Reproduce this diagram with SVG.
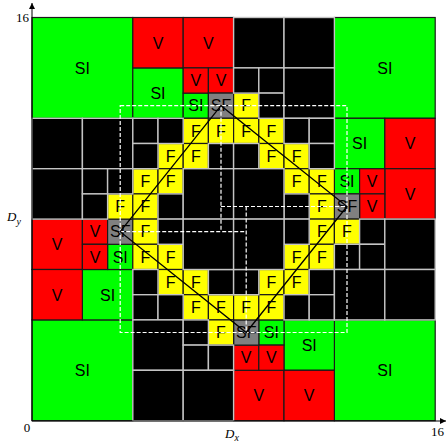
<svg xmlns="http://www.w3.org/2000/svg" width="447" height="445" viewBox="0 0 447 445">
<style>
.si{fill:#00ff00}.v{fill:#ff0000}.f{fill:#ffff00}.sf{fill:#808080}
.c{stroke:#1a1a1a;stroke-width:1.2}
.b{fill:#000;stroke:#c4c4c4;stroke-width:1.4}
.l{font-family:"Liberation Sans",Arial,sans-serif;font-size:16px;text-anchor:middle;fill:#000}
.ax{font-family:"Liberation Serif","Times New Roman",serif;font-size:13px;fill:#000}
.dash{fill:none;stroke:#fff;stroke-width:1.2;stroke-dasharray:4 2}
.diag{fill:none;stroke:#000;stroke-width:1.3}
</style>
<defs>
<marker id="arr" viewBox="0 0 10 10" refX="10" refY="5" markerWidth="6" markerHeight="6" orient="auto"><path d="M0,0 L10,5 L0,10 z" fill="#000"/></marker>
</defs>
<g id="cells-colored">
<g id="si-tl" transform="translate(32,17.5)"><rect class="si c" width="100.8" height="100.8"/><text class="l" x="50.4" y="56.2">SI</text></g>
<g id="si-tr" transform="translate(334.4,17.5)"><rect class="si c" width="100.8" height="100.8"/><text class="l" x="50.4" y="56.2">SI</text></g>
<g id="si-bl" transform="translate(32,319.9)"><rect class="si c" width="100.8" height="100.8"/><text class="l" x="50.4" y="56.2">SI</text></g>
<g id="si-br" transform="translate(334.4,319.9)"><rect class="si c" width="100.8" height="100.8"/><text class="l" x="50.4" y="56.2">SI</text></g>
<g id="si-c4r2" transform="translate(132.8,67.9)"><rect class="si c" width="50.4" height="50.4"/><text class="l" x="25.2" y="31">SI</text></g>
<g id="si-c6r3" transform="translate(183.2,93.1)"><rect class="si c" width="25.2" height="25.2"/><text class="l" x="12.6" y="18.4">SI</text></g>
<g id="si-c12r4" transform="translate(334.4,118.3)"><rect class="si c" width="50.4" height="50.4"/><text class="l" x="25.2" y="31">SI</text></g>
<g id="si-c12r6" transform="translate(334.4,168.7)"><rect class="si c" width="25.2" height="25.2"/><text class="l" x="12.6" y="18.4">SI</text></g>
<g id="si-c2r10" transform="translate(82.4,269.5)"><rect class="si c" width="50.4" height="50.4"/><text class="l" x="25.2" y="31">SI</text></g>
<g id="si-c3r9" transform="translate(107.6,244.3)"><rect class="si c" width="25.2" height="25.2"/><text class="l" x="12.6" y="18.4">SI</text></g>
<g id="si-c10r12" transform="translate(284,319.9)"><rect class="si c" width="50.4" height="50.4"/><text class="l" x="25.2" y="31">SI</text></g>
<g id="si-c9r12" transform="translate(258.8,319.9)"><rect class="si c" width="25.2" height="25.2"/><text class="l" x="12.6" y="18.4">SI</text></g>

<g id="v-c4r0" transform="translate(132.8,17.5)"><rect class="v c" width="50.4" height="50.4"/><text class="l" x="25.2" y="31">V</text></g>
<g id="v-c6r0" transform="translate(183.2,17.5)"><rect class="v c" width="50.4" height="50.4"/><text class="l" x="25.2" y="31">V</text></g>
<g id="v-c6r2" transform="translate(183.2,67.9)"><rect class="v c" width="25.2" height="25.2"/><text class="l" x="12.6" y="18.4">V</text></g>
<g id="v-c7r2" transform="translate(208.4,67.9)"><rect class="v c" width="25.2" height="25.2"/><text class="l" x="12.6" y="18.4">V</text></g>
<g id="v-c14r4" transform="translate(384.8,118.3)"><rect class="v c" width="50.4" height="50.4"/><text class="l" x="25.2" y="31">V</text></g>
<g id="v-c14r6" transform="translate(384.8,168.7)"><rect class="v c" width="50.4" height="50.4"/><text class="l" x="25.2" y="31">V</text></g>
<g id="v-c13r6" transform="translate(359.6,168.7)"><rect class="v c" width="25.2" height="25.2"/><text class="l" x="12.6" y="18.4">V</text></g>
<g id="v-c13r7" transform="translate(359.6,193.9)"><rect class="v c" width="25.2" height="25.2"/><text class="l" x="12.6" y="18.4">V</text></g>
<g id="v-c0r8" transform="translate(32,219.1)"><rect class="v c" width="50.4" height="50.4"/><text class="l" x="25.2" y="31">V</text></g>
<g id="v-c0r10" transform="translate(32,269.5)"><rect class="v c" width="50.4" height="50.4"/><text class="l" x="25.2" y="31">V</text></g>
<g id="v-c2r8" transform="translate(82.4,219.1)"><rect class="v c" width="25.2" height="25.2"/><text class="l" x="12.6" y="18.4">V</text></g>
<g id="v-c2r9" transform="translate(82.4,244.3)"><rect class="v c" width="25.2" height="25.2"/><text class="l" x="12.6" y="18.4">V</text></g>
<g id="v-c8r14" transform="translate(233.6,370.3)"><rect class="v c" width="50.4" height="50.4"/><text class="l" x="25.2" y="31">V</text></g>
<g id="v-c10r14" transform="translate(284,370.3)"><rect class="v c" width="50.4" height="50.4"/><text class="l" x="25.2" y="31">V</text></g>
<g id="v-c8r13" transform="translate(233.6,345.1)"><rect class="v c" width="25.2" height="25.2"/><text class="l" x="12.6" y="18.4">V</text></g>
<g id="v-c9r13" transform="translate(258.8,345.1)"><rect class="v c" width="25.2" height="25.2"/><text class="l" x="12.6" y="18.4">V</text></g>

<g id="sf-top" transform="translate(208.4,93.1)"><rect class="sf c" width="25.2" height="25.2"/><text class="l" x="12.6" y="18.4">SF</text></g>
<g id="sf-right" transform="translate(334.4,193.9)"><rect class="sf c" width="25.2" height="25.2"/><text class="l" x="12.6" y="18.4">SF</text></g>
<g id="sf-left" transform="translate(107.6,219.1)"><rect class="sf c" width="25.2" height="25.2"/><text class="l" x="12.6" y="18.4">SF</text></g>
<g id="sf-bottom" transform="translate(233.6,319.9)"><rect class="sf c" width="25.2" height="25.2"/><text class="l" x="12.6" y="18.4">SF</text></g>

<g id="f-c8r3" transform="translate(233.6,93.1)"><rect class="f c" width="25.2" height="25.2"/><text class="l" x="12.6" y="18.4">F</text></g>
<g id="f-c6r4" transform="translate(183.2,118.3)"><rect class="f c" width="25.2" height="25.2"/><text class="l" x="12.6" y="18.4">F</text></g>
<g id="f-c7r4" transform="translate(208.4,118.3)"><rect class="f c" width="25.2" height="25.2"/><text class="l" x="12.6" y="18.4">F</text></g>
<g id="f-c8r4" transform="translate(233.6,118.3)"><rect class="f c" width="25.2" height="25.2"/><text class="l" x="12.6" y="18.4">F</text></g>
<g id="f-c9r4" transform="translate(258.8,118.3)"><rect class="f c" width="25.2" height="25.2"/><text class="l" x="12.6" y="18.4">F</text></g>
<g id="f-c5r5" transform="translate(158,143.5)"><rect class="f c" width="25.2" height="25.2"/><text class="l" x="12.6" y="18.4">F</text></g>
<g id="f-c6r5" transform="translate(183.2,143.5)"><rect class="f c" width="25.2" height="25.2"/><text class="l" x="12.6" y="18.4">F</text></g>
<g id="f-c9r5" transform="translate(258.8,143.5)"><rect class="f c" width="25.2" height="25.2"/><text class="l" x="12.6" y="18.4">F</text></g>
<g id="f-c10r5" transform="translate(284,143.5)"><rect class="f c" width="25.2" height="25.2"/><text class="l" x="12.6" y="18.4">F</text></g>
<g id="f-c4r6" transform="translate(132.8,168.7)"><rect class="f c" width="25.2" height="25.2"/><text class="l" x="12.6" y="18.4">F</text></g>
<g id="f-c5r6" transform="translate(158,168.7)"><rect class="f c" width="25.2" height="25.2"/><text class="l" x="12.6" y="18.4">F</text></g>
<g id="f-c10r6" transform="translate(284,168.7)"><rect class="f c" width="25.2" height="25.2"/><text class="l" x="12.6" y="18.4">F</text></g>
<g id="f-c11r6" transform="translate(309.2,168.7)"><rect class="f c" width="25.2" height="25.2"/><text class="l" x="12.6" y="18.4">F</text></g>
<g id="f-c3r7" transform="translate(107.6,193.9)"><rect class="f c" width="25.2" height="25.2"/><text class="l" x="12.6" y="18.4">F</text></g>
<g id="f-c4r7" transform="translate(132.8,193.9)"><rect class="f c" width="25.2" height="25.2"/><text class="l" x="12.6" y="18.4">F</text></g>
<g id="f-c11r7" transform="translate(309.2,193.9)"><rect class="f c" width="25.2" height="25.2"/><text class="l" x="12.6" y="18.4">F</text></g>
<g id="f-c4r8" transform="translate(132.8,219.1)"><rect class="f c" width="25.2" height="25.2"/><text class="l" x="12.6" y="18.4">F</text></g>
<g id="f-c11r8" transform="translate(309.2,219.1)"><rect class="f c" width="25.2" height="25.2"/><text class="l" x="12.6" y="18.4">F</text></g>
<g id="f-c12r8" transform="translate(334.4,219.1)"><rect class="f c" width="25.2" height="25.2"/><text class="l" x="12.6" y="18.4">F</text></g>
<g id="f-c4r9" transform="translate(132.8,244.3)"><rect class="f c" width="25.2" height="25.2"/><text class="l" x="12.6" y="18.4">F</text></g>
<g id="f-c5r9" transform="translate(158,244.3)"><rect class="f c" width="25.2" height="25.2"/><text class="l" x="12.6" y="18.4">F</text></g>
<g id="f-c10r9" transform="translate(284,244.3)"><rect class="f c" width="25.2" height="25.2"/><text class="l" x="12.6" y="18.4">F</text></g>
<g id="f-c11r9" transform="translate(309.2,244.3)"><rect class="f c" width="25.2" height="25.2"/><text class="l" x="12.6" y="18.4">F</text></g>
<g id="f-c5r10" transform="translate(158,269.5)"><rect class="f c" width="25.2" height="25.2"/><text class="l" x="12.6" y="18.4">F</text></g>
<g id="f-c6r10" transform="translate(183.2,269.5)"><rect class="f c" width="25.2" height="25.2"/><text class="l" x="12.6" y="18.4">F</text></g>
<g id="f-c9r10" transform="translate(258.8,269.5)"><rect class="f c" width="25.2" height="25.2"/><text class="l" x="12.6" y="18.4">F</text></g>
<g id="f-c10r10" transform="translate(284,269.5)"><rect class="f c" width="25.2" height="25.2"/><text class="l" x="12.6" y="18.4">F</text></g>
<g id="f-c6r11" transform="translate(183.2,294.7)"><rect class="f c" width="25.2" height="25.2"/><text class="l" x="12.6" y="18.4">F</text></g>
<g id="f-c7r11" transform="translate(208.4,294.7)"><rect class="f c" width="25.2" height="25.2"/><text class="l" x="12.6" y="18.4">F</text></g>
<g id="f-c8r11" transform="translate(233.6,294.7)"><rect class="f c" width="25.2" height="25.2"/><text class="l" x="12.6" y="18.4">F</text></g>
<g id="f-c9r11" transform="translate(258.8,294.7)"><rect class="f c" width="25.2" height="25.2"/><text class="l" x="12.6" y="18.4">F</text></g>
<g id="f-c7r12" transform="translate(208.4,319.9)"><rect class="f c" width="25.2" height="25.2"/><text class="l" x="12.6" y="18.4">F</text></g>
</g>
<g id="cells-empty">
<g id="b-c8r0"><rect class="b" x="233.6" y="17.5" width="50.4" height="50.4"/></g>
<g id="b-c10r0"><rect class="b" x="284" y="17.5" width="50.4" height="50.4"/></g>
<g id="b-c8r2"><rect class="b" x="233.6" y="67.9" width="25.2" height="25.2"/></g>
<g id="b-c9r2"><rect class="b" x="258.8" y="67.9" width="25.2" height="25.2"/></g>
<g id="b-c9r3"><rect class="b" x="258.8" y="93.1" width="25.2" height="25.2"/></g>
<g id="b-c10r2"><rect class="b" x="284" y="67.9" width="50.4" height="50.4"/></g>
<g id="b-c0r4"><rect class="b" x="32" y="118.3" width="50.4" height="50.4"/></g>
<g id="b-c2r4"><rect class="b" x="82.4" y="118.3" width="50.4" height="50.4"/></g>
<g id="b-c0r6"><rect class="b" x="32" y="168.7" width="50.4" height="50.4"/></g>
<g id="b-c2r6"><rect class="b" x="82.4" y="168.7" width="25.2" height="25.2"/></g>
<g id="b-c3r6"><rect class="b" x="107.6" y="168.7" width="25.2" height="25.2"/></g>
<g id="b-c2r7"><rect class="b" x="82.4" y="193.9" width="25.2" height="25.2"/></g>
<g id="b-c4r4"><rect class="b" x="132.8" y="118.3" width="25.2" height="25.2"/></g>
<g id="b-c5r4"><rect class="b" x="158" y="118.3" width="25.2" height="25.2"/></g>
<g id="b-c4r5"><rect class="b" x="132.8" y="143.5" width="25.2" height="25.2"/></g>
<g id="b-c7r5"><rect class="b" x="208.4" y="143.5" width="25.2" height="25.2"/></g>
<g id="b-c8r5"><rect class="b" x="233.6" y="143.5" width="25.2" height="25.2"/></g>
<g id="b-c10r4"><rect class="b" x="284" y="118.3" width="25.2" height="25.2"/></g>
<g id="b-c11r4"><rect class="b" x="309.2" y="118.3" width="25.2" height="25.2"/></g>
<g id="b-c11r5"><rect class="b" x="309.2" y="143.5" width="25.2" height="25.2"/></g>
<g id="b-c5r7"><rect class="b" x="158" y="193.9" width="25.2" height="25.2"/></g>
<g id="b-c10r7"><rect class="b" x="284" y="193.9" width="25.2" height="25.2"/></g>
<g id="b-c5r8"><rect class="b" x="158" y="219.1" width="25.2" height="25.2"/></g>
<g id="b-c10r8"><rect class="b" x="284" y="219.1" width="25.2" height="25.2"/></g>
<g id="b-c4r10"><rect class="b" x="132.8" y="269.5" width="25.2" height="25.2"/></g>
<g id="b-c7r10"><rect class="b" x="208.4" y="269.5" width="25.2" height="25.2"/></g>
<g id="b-c8r10"><rect class="b" x="233.6" y="269.5" width="25.2" height="25.2"/></g>
<g id="b-c11r10"><rect class="b" x="309.2" y="269.5" width="25.2" height="25.2"/></g>
<g id="b-c4r11"><rect class="b" x="132.8" y="294.7" width="25.2" height="25.2"/></g>
<g id="b-c5r11"><rect class="b" x="158" y="294.7" width="25.2" height="25.2"/></g>
<g id="b-c10r11"><rect class="b" x="284" y="294.7" width="25.2" height="25.2"/></g>
<g id="b-c11r11"><rect class="b" x="309.2" y="294.7" width="25.2" height="25.2"/></g>
<g id="b-c6r6"><rect class="b" x="183.2" y="168.7" width="50.4" height="50.4"/></g>
<g id="b-c8r6"><rect class="b" x="233.6" y="168.7" width="50.4" height="50.4"/></g>
<g id="b-c6r8"><rect class="b" x="183.2" y="219.1" width="50.4" height="50.4"/></g>
<g id="b-c8r8"><rect class="b" x="233.6" y="219.1" width="50.4" height="50.4"/></g>
<g id="b-c12r9"><rect class="b" x="334.4" y="244.3" width="25.2" height="25.2"/></g>
<g id="b-c13r8"><rect class="b" x="359.6" y="219.1" width="25.2" height="25.2"/></g>
<g id="b-c13r9"><rect class="b" x="359.6" y="244.3" width="25.2" height="25.2"/></g>
<g id="b-c12r10"><rect class="b" x="334.4" y="269.5" width="50.4" height="50.4"/></g>
<g id="b-c14r8"><rect class="b" x="384.8" y="219.1" width="50.4" height="50.4"/></g>
<g id="b-c14r10"><rect class="b" x="384.8" y="269.5" width="50.4" height="50.4"/></g>
<g id="b-c4r12"><rect class="b" x="132.8" y="319.9" width="50.4" height="50.4"/></g>
<g id="b-c6r12"><rect class="b" x="183.2" y="319.9" width="25.2" height="25.2"/></g>
<g id="b-c6r13"><rect class="b" x="183.2" y="345.1" width="25.2" height="25.2"/></g>
<g id="b-c7r13"><rect class="b" x="208.4" y="345.1" width="25.2" height="25.2"/></g>
<g id="b-c4r14"><rect class="b" x="132.8" y="370.3" width="50.4" height="50.4"/></g>
<g id="b-c6r14"><rect class="b" x="183.2" y="370.3" width="50.4" height="50.4"/></g>
</g>
<g id="connectors">
<rect class="dash" x="120.2" y="105.7" width="226.8" height="226.8"/>
<path class="dash" d="M221,105.7 V231.7 M120.2,231.7 H246.2 M221,206.5 H347 M246.2,206.5 V332.5"/>
<path class="diag" d="M221,105.7 L120.2,231.7 L246.2,332.5 L347,206.5 Z"/>
</g>
<g id="axes">
<line x1="32" y1="421" x2="32" y2="3" stroke="#000" stroke-width="1" marker-end="url(#arr)"/>
<line x1="32" y1="421" x2="446" y2="421" stroke="#000" stroke-width="1" marker-end="url(#arr)"/>
<text class="ax" x="29" y="22" text-anchor="end">16</text>
<text class="ax" x="27" y="432" text-anchor="middle">0</text>
<text class="ax" x="437.5" y="436" text-anchor="middle">16</text>
<text class="ax" x="225" y="438" font-style="italic" font-size="15">D<tspan dy="3" font-size="10">x</tspan></text>
<text class="ax" x="7" y="221" font-style="italic" font-size="15">D<tspan dy="4" font-size="10">y</tspan></text>
</g>
</svg>
